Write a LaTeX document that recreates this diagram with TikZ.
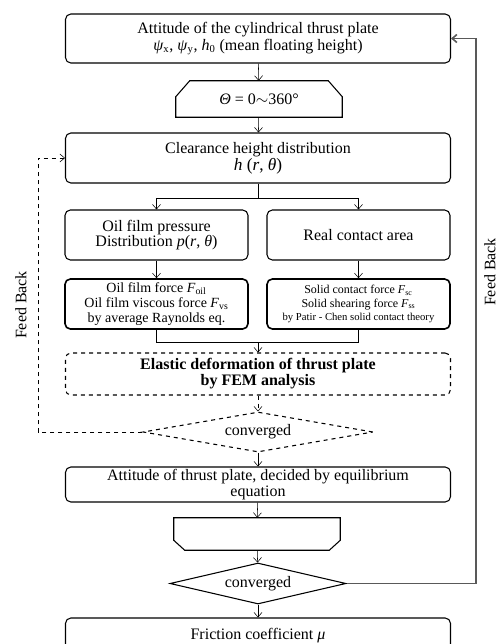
\documentclass[tikz,border=0pt]{standalone}
\usepackage{fontspec}
\setmainfont{Liberation Serif}
\usetikzlibrary{arrows.meta,shapes.geometric}
\newcommand\gk[1]{\textit{#1}}

\begin{document}
\begin{tikzpicture}[x=0.75pt,y=-0.75pt,
  >={Straight Barb[length=3.5pt,width=6pt]},
  box/.style={draw,rounded corners=4pt,line width=0.8pt,minimum width=288.75pt,
    align=center,inner sep=0pt,font=\fontsize{12}{12.5}\selectfont},
  half/.style={box,minimum width=137.25pt,minimum height=37.5pt},
  force/.style={half,line width=1.2pt},
  loopbox/.style={minimum width=124.5pt,inner sep=0pt,font=\fontsize{12}{12}\selectfont},
  test/.style={draw,diamond,aspect=6,inner sep=0pt,line width=0.8pt,
    font=\fontsize{12}{12}\selectfont},
  fb/.style={rotate=90,font=\fontsize{12}{12}\selectfont}]
\useasboundingbox (0,0) rectangle (499,644);
\clip (0,0) rectangle (499,644);
% main column
\node[box,minimum height=36.75pt] (attit) at (258,38.5)
  {Attitude of the cylindrical thrust plate\\
   \gk{ψ}\textsubscript{x}, \gk{ψ}\textsubscript{y}, \gk{h}\textsubscript{0} (mean floating height)};
\node[loopbox,minimum height=27pt] (start) at (259,99) {\raisebox{-3pt}{\gk{Θ} = 0$\sim$360°}};
\draw[line width=0.8pt] (start.south west) -- ([yshift=-12pt]start.north west)
  -- ([xshift=10.5pt]start.north west) -- ([xshift=-10.5pt]start.north east)
  -- ([yshift=-12pt]start.north east) -- (start.south east) -- cycle;
\node[box,minimum height=37.5pt] (clear) at (258,158)
  {Clearance height distribution\\ {\fontsize{13}{16}\selectfont\gk{h} (\gk{r}, \gk{θ})}};
\node[half] (oil) at (156.5,235) {Oil film pressure\\[-1.5pt] Distribution \gk{p}(\gk{r}, \gk{θ})};
\node[half] (cont) at (358.5,235) {Real contact area};
\node[force,font=\fontsize{10.5}{11}\selectfont] (oilF) at (156.5,304)
  {Oil film force \gk{F}\textsubscript{oil}\\ Oil film viscous force \gk{F}\textsubscript{vs}\\
   by average Raynolds eq.};
\node[force,font=\fontsize{9}{10}\selectfont] (solF) at (358.5,304)
  {Solid contact force \gk{F}\textsubscript{sc}\\ Solid shearing force \gk{F}\textsubscript{ss}\\
   \fontsize{8}{10}\selectfont by Patir - Chen solid contact theory};
\node[box,dashed,minimum height=31.5pt,font=\fontsize{12}{12}\selectfont\bfseries] (elast) at (258,374)
  {Elastic deformation of thrust plate\\ by FEM analysis};
\node[test,dashed,minimum width=172.5pt,minimum height=30pt] (conv1) at (258,432) {converged};
\node[box,minimum height=26.25pt,font=\fontsize{12}{12}\selectfont] (plate) at (258,484.5)
  {Attitude of thrust plate, decided by equilibrium\\ equation};
\node[loopbox,minimum height=24pt] (stop) at (257,534) {};
\draw[line width=0.8pt] (stop.north west) -- (stop.north east)
  -- ([yshift=7.5pt]stop.south east) -- ([xshift=-8.25pt]stop.south east)
  -- ([xshift=8.25pt]stop.south west) -- ([yshift=7.5pt]stop.south west) -- cycle;
\node[test,minimum width=132pt,minimum height=30.75pt] (conv2) at (258,583.5) {converged};
\node[box,minimum height=27pt] (fric) at (258,636) {Friction coefficient \gk{μ}};
% feed back labels
\node[fb] (fbl) at (21,305) {Feed Back};
\node[fb] (fbr) at (490,272) {Feed Back};
% connectors
\draw[->] (attit) -- (start);
\draw[->] (start) -- (clear);
\draw (clear.south) -- (258,198) coordinate (split);
\draw[->] (split) -| (oil.north);
\draw[->] (split) -| (cont.north);
\draw[->] (oil) -- (oilF);
\draw[->] (cont) -- (solF);
\coordinate (merge) at (258,342);
\draw (oilF.south) |- (merge);
\draw (solF.south) |- (merge);
\draw[->] (merge) -- (elast.north);
\draw[->,dashed] (elast) -- (conv1);
\draw[->] (conv1) -- (plate);
\draw[->] (plate) -- (stop);
\draw[->] (stop) -- (conv2);
\draw[->] (conv2) -- (fric);
\coordinate (backl) at (38,432);
\draw[->,dashed] (conv1.west) -- (backl) |- (clear.west);
\coordinate (backr) at (476,583.5);
\draw[->,black!65,line width=1.2pt] (conv2.east) -- (backr) |- (attit.east);
\end{tikzpicture}
\end{document}
